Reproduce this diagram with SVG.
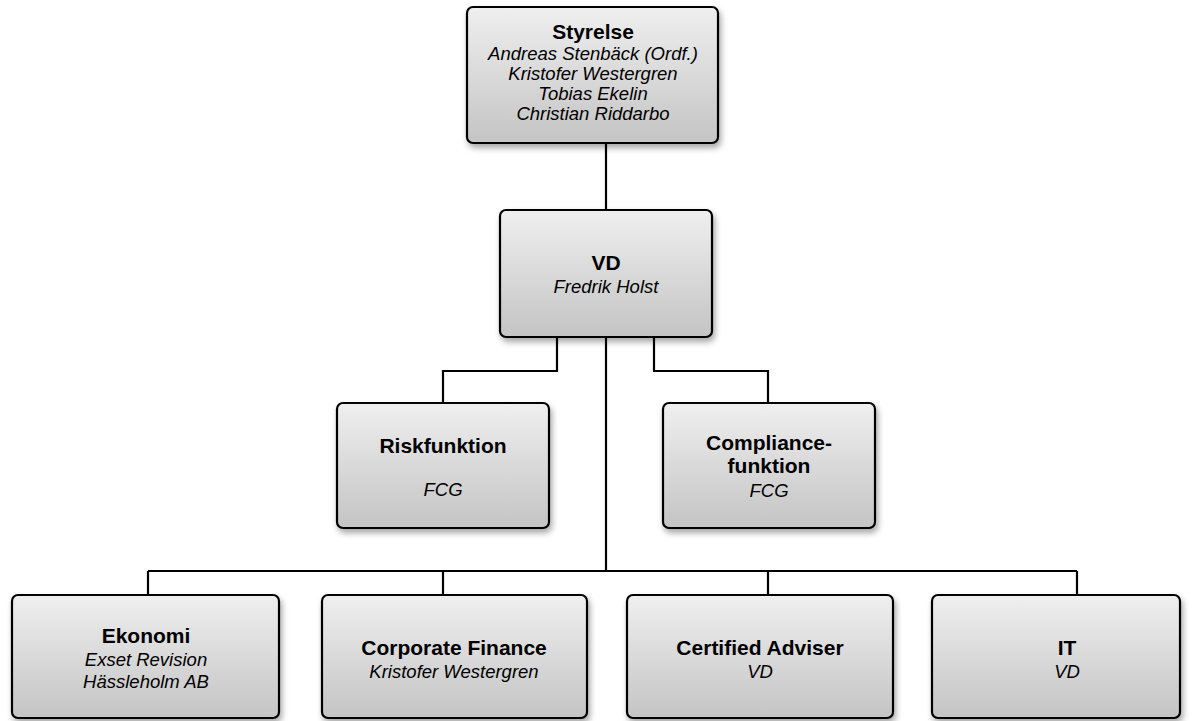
<svg xmlns="http://www.w3.org/2000/svg" width="1192" height="721" viewBox="0 0 1192 721">
<defs>
<linearGradient id="g" x1="0" y1="0" x2="0" y2="1">
<stop offset="0" stop-color="#efefef"/>
<stop offset="1" stop-color="#c4c4c4"/>
</linearGradient>
<filter id="sh" x="-10%" y="-10%" width="125%" height="130%">
<feGaussianBlur in="SourceAlpha" stdDeviation="3"/>
<feOffset dx="2" dy="4" result="b"/>
<feComponentTransfer><feFuncA type="linear" slope="0.35"/></feComponentTransfer>
<feMerge><feMergeNode/><feMergeNode in="SourceGraphic"/></feMerge>
</filter>
</defs>
<style>
.box{fill:url(#g);stroke:#000;stroke-width:2.2;filter:url(#sh)}
.t{font-family:"Liberation Sans",Arial,sans-serif;font-weight:bold;font-size:21px;text-anchor:middle;fill:#000}
.s{font-family:"Liberation Sans",Arial,sans-serif;font-style:italic;font-size:18.5px;text-anchor:middle;fill:#000}
.c{fill:none;stroke:#000;stroke-width:2.2}
</style>
<g id="connectors">
<path class="c" d="M606 143 V210"/>
<path class="c" d="M557 337 V371 H443 V403"/>
<path class="c" d="M654 337 V371 H768 V403"/>
<path class="c" d="M606 337 V571"/>
<path class="c" d="M148 571 H1077"/>
<path class="c" d="M148 571 V595 M443 571 V595 M768 571 V595 M1077 571 V595"/>
</g>
<g id="styrelse">
<rect class="box" x="467" y="7" width="251" height="136" rx="6"/>
<text class="t" x="593" y="39">Styrelse</text>
<text class="s" x="593" y="60">Andreas Stenbäck (Ordf.)</text>
<text class="s" x="593" y="80">Kristofer Westergren</text>
<text class="s" x="593" y="100">Tobias Ekelin</text>
<text class="s" x="593" y="120">Christian Riddarbo</text>
</g>
<g id="vd">
<rect class="box" x="500" y="210" width="212" height="127" rx="6"/>
<text class="t" x="606" y="270">VD</text>
<text class="s" x="606" y="293">Fredrik Holst</text>
</g>
<g id="risk">
<rect class="box" x="337" y="403" width="212" height="125" rx="6"/>
<text class="t" x="443" y="453">Riskfunktion</text>
<text class="s" x="443" y="496">FCG</text>
</g>
<g id="compliance">
<rect class="box" x="663" y="403" width="212" height="125" rx="6"/>
<text class="t" x="769" y="450">Compliance-</text>
<text class="t" x="769" y="473">funktion</text>
<text class="s" x="769" y="497">FCG</text>
</g>
<g id="ekonomi">
<rect class="box" x="12" y="595" width="267" height="123" rx="6"/>
<text class="t" x="146" y="643">Ekonomi</text>
<text class="s" x="146" y="666">Exset Revision</text>
<text class="s" x="146" y="688">Hässleholm AB</text>
</g>
<g id="corporate">
<rect class="box" x="322" y="595" width="265" height="123" rx="6"/>
<text class="t" x="454" y="655">Corporate Finance</text>
<text class="s" x="454" y="678">Kristofer Westergren</text>
</g>
<g id="certified">
<rect class="box" x="627" y="595" width="266" height="123" rx="6"/>
<text class="t" x="760" y="655">Certified Adviser</text>
<text class="s" x="760" y="678">VD</text>
</g>
<g id="it">
<rect class="box" x="932" y="595" width="248" height="123" rx="6"/>
<text class="t" x="1067" y="655">IT</text>
<text class="s" x="1067" y="678">VD</text>
</g>
</svg>
